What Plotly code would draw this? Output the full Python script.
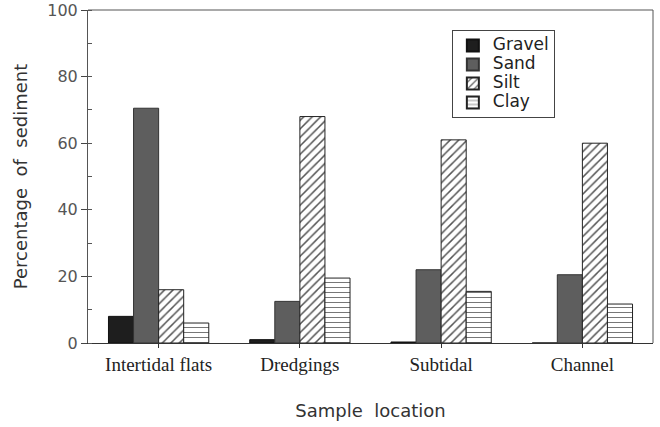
import plotly.graph_objects as go

categories = ["Intertidal flats", "Dredgings", "Subtidal", "Channel"]
gravel = [8, 1, 0.3, 0]
sand = [70.5, 12.5, 22, 20.5]
silt = [16, 68, 61, 60]
clay = [6, 19.5, 15.5, 11.7]
y_ticks = [0, 20, 40, 60, 80, 100]

def lg(name):
    return "<span style='font-size:17px'>" + name + "</span>"

fig = go.Figure()
fig.add_bar(name=lg("Gravel"), x=categories, y=gravel,
            marker=dict(color="#1e1e1e", line=dict(color="#111", width=1)))
fig.add_bar(name=lg("Sand"), x=categories, y=sand,
            marker=dict(color="#5e5e5e", line=dict(color="#333", width=1)))
fig.add_bar(name=lg("Silt"), x=categories, y=silt,
            marker=dict(color="white", line=dict(color="#222", width=1),
                        pattern=dict(shape="/", fgcolor="#555", bgcolor="white",
                                     size=6, solidity=0.25, fillmode="replace")))
fig.add_bar(name=lg("Clay"), x=categories, y=clay,
            marker=dict(color="white", line=dict(color="#222", width=1),
                        pattern=dict(shape="-", fgcolor="#777", bgcolor="white",
                                     size=5, solidity=0.2, fillmode="replace")))

fig.update_layout(
    width=660, height=427,
    margin=dict(l=88, r=7, t=10, b=84),
    paper_bgcolor="white", plot_bgcolor="white",
    barmode="group", bargap=0.29, bargroupgap=0,
    showlegend=True,
    legend=dict(x=0.644, y=0.94, xanchor="left", yanchor="top",
                bordercolor="#444", borderwidth=1, bgcolor="white",
                font=dict(family="DejaVu Sans", size=12, color="#222"),
                tracegroupgap=0, itemsizing="constant"),
    font=dict(family="DejaVu Sans", color="#333"),
)

fig.update_yaxes(range=[0, 100], tickvals=y_ticks, ticks="outside", ticklen=6,
                 tickcolor="#444", showline=True, linecolor="#555", linewidth=1,
                 mirror=False, showgrid=False, zeroline=False, automargin=False,
                 tickfont=dict(family="DejaVu Sans", size=16, color="#555"),
                 title=dict(text="Percentage\u00a0\u00a0of\u00a0\u00a0sediment", standoff=14,
                            font=dict(family="DejaVu Sans", size=18, color="#333")),
                 minor=dict(dtick=10, ticks="inside", ticklen=4, tickcolor="#555"))
fig.update_xaxes(showline=True, linecolor="#333", linewidth=1, ticks="outside",
                 ticklen=4, tickcolor="#333", showgrid=False, automargin=False,
                 tickfont=dict(family="Liberation Serif", size=19, color="#222"),
                 minor=dict(ticks="outside", ticklen=4, tickcolor="#333", showgrid=False),
                 title=dict(text="Sample\u00a0\u00a0location", standoff=30,
                            font=dict(family="DejaVu Sans", size=18, color="#333")))

# top and right frame
fig.add_shape(type="line", xref="paper", yref="paper", x0=0, x1=1, y0=1, y1=1,
              line=dict(color="#555", width=1))
fig.add_shape(type="line", xref="paper", yref="paper", x0=1, x1=1, y0=0, y1=1,
              line=dict(color="#555", width=1))

fig.write_html("out.html")
